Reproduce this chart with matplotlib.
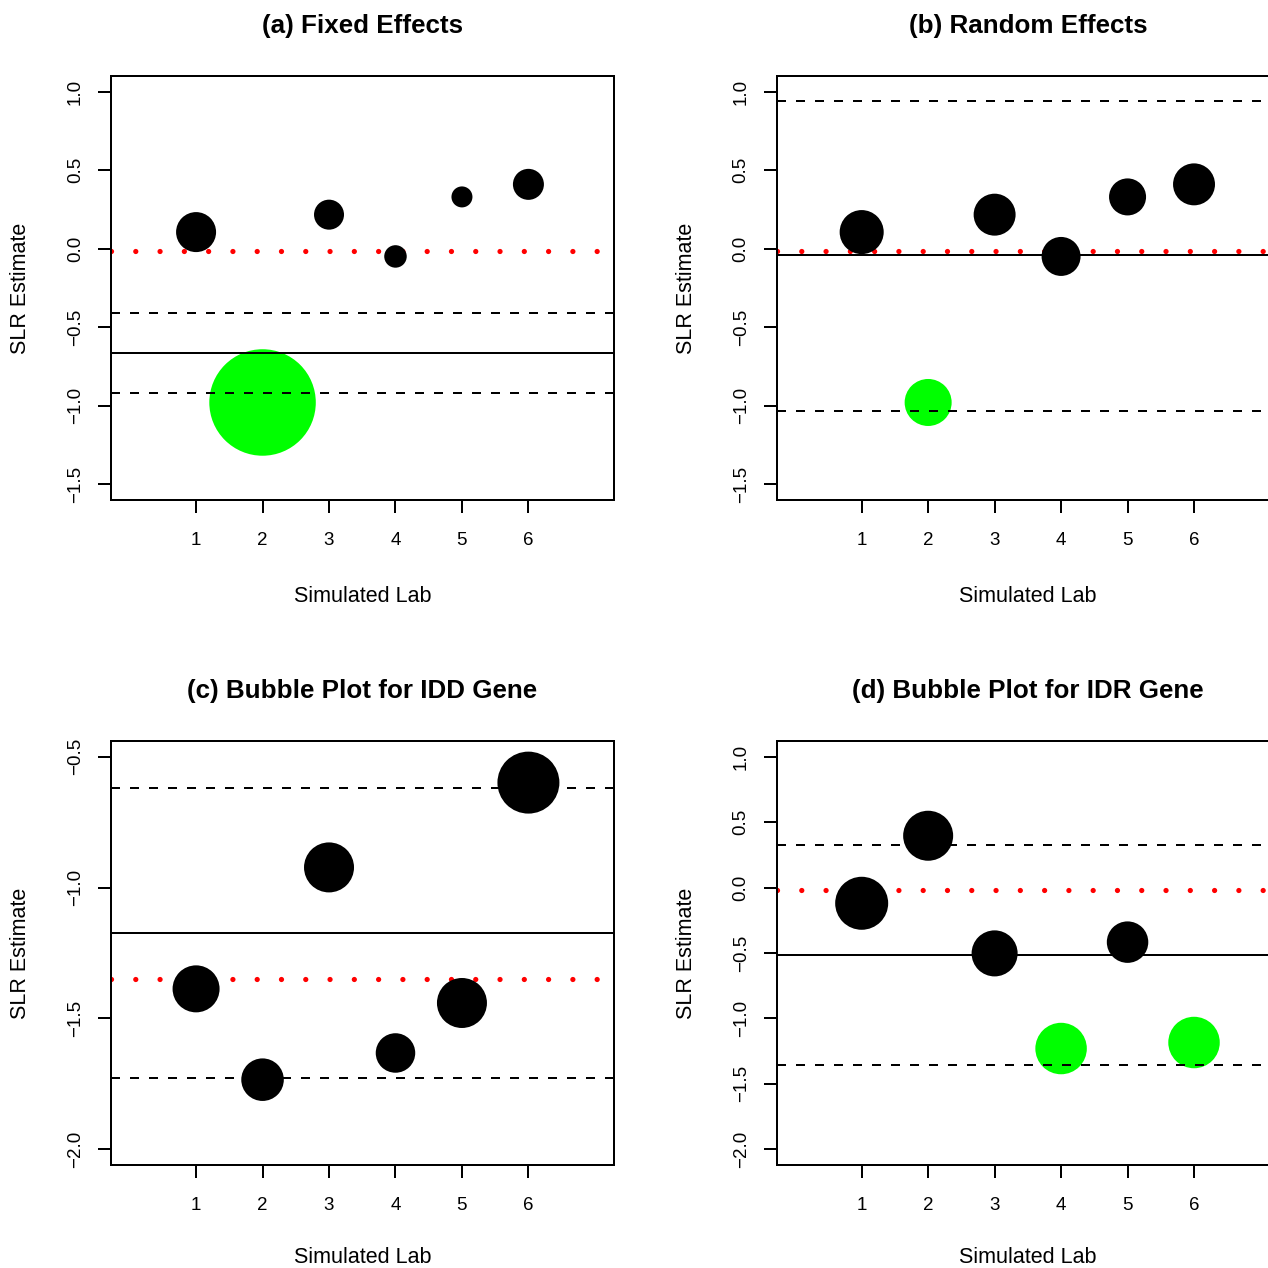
import numpy as np
import matplotlib
matplotlib.use("Agg")
import matplotlib.pyplot as plt

plt.rcParams['font.family'] = ['Liberation Sans', 'DejaVu Sans']

# lab numbers
labs = [1, 2, 3, 4, 5, 6]

# (a) / (b) same study estimates
est_ab = [0.106, -0.979, 0.217, -0.049, 0.330, 0.410]
wt_a = [16.0, 113.4, 9.0, 5.06, 4.41, 9.61]
wt_b = [19.4, 22.1, 17.6, 15.2, 13.7, 17.6]
out_ab = [False, True, False, False, False, False]

# (c) IDD gene
est_c = [-1.387, -1.734, -0.923, -1.632, -1.441, -0.599]
wt_c = [22.1, 18.1, 25.0, 15.6, 25.0, 38.4]
out_c = [False, False, False, False, False, False]

# (d) IDR gene
est_d = [-0.120, 0.396, -0.503, -1.230, -0.417, -1.184]
wt_d = [28.1, 25.0, 21.2, 26.5, 17.2, 26.5]
out_d = [False, False, False, True, False, True]

# pooled estimate, lower / upper dashed bounds, reference (true) value
pool_a = [-0.663, -0.917, -0.412, -0.013]
pool_b = [-0.043, -1.033, 0.941, -0.013]
pool_c = [-1.172, -1.728, -0.618, -1.350]
pool_d = [-0.514, -1.355, 0.329, -0.015]

titles = ["(a) Fixed Effects", "(b) Random Effects",
          "(c) Bubble Plot for IDD Gene", "(d) Bubble Plot for IDR Gene"]

yticks_ab = [-1.5, -1.0, -0.5, 0.0, 0.5, 1.0]
yticks_c = [-2.0, -1.5, -1.0, -0.5]
yticks_d = [-2.0, -1.5, -1.0, -0.5, 0.0, 0.5, 1.0]


def fmt(v):
    s = "%.1f" % v
    return s.replace("-", "\u2212")


def bubble(ax, title, est, wt, outl, pool, yticks, ylim, xlab_y=-0.2017):
    lw = 1.44
    ax.set_xlim(-0.28, 7.28)
    ax.set_ylim(*ylim)
    # reference value (red dotted)
    ax.axhline(pool[3], color='red', lw=3.8, linestyle=(0, (0.001, 4.6)),
               dash_capstyle='round', zorder=1)
    cols = ['#00FF00' if o else 'black' for o in outl]
    sizes = [51.84 * w for w in wt]
    ax.scatter(labs, est, s=sizes, c=cols, linewidths=0, zorder=2)
    ax.axhline(pool[0], color='black', lw=lw, zorder=3)
    ax.axhline(pool[1], color='black', lw=lw, linestyle=(0, (4.5, 5.0)), zorder=3)
    ax.axhline(pool[2], color='black', lw=lw, linestyle=(0, (4.5, 5.0)), zorder=3)

    ax.set_xticks(labs)
    ax.set_xticklabels([str(l) for l in labs])
    ax.set_yticks(yticks)
    ax.set_yticklabels([fmt(v) for v in yticks], rotation=90, va='center')
    ax.tick_params(axis='both', length=9.4, width=lw, labelsize=13.5,
                   direction='out')
    ax.tick_params(axis='x', pad=13.4)
    ax.tick_params(axis='y', pad=10)
    for sp in ax.spines.values():
        sp.set_linewidth(lw)
    ax.set_title(title, fontsize=18.7, fontweight='bold', pad=31)
    ax.set_xlabel("Simulated Lab", fontsize=15.5)
    ax.set_ylabel("SLR Estimate", fontsize=15.5)
    ax.xaxis.set_label_coords(0.5, xlab_y)
    ax.yaxis.set_label_coords(-0.1588, 0.5)


fig = plt.figure(figsize=(12.68, 12.68), dpi=100)
W = 502.5 / 1268
H = 424 / 1268
ax1 = fig.add_axes([111 / 1268, (1268 - 500) / 1268, W, H])
ax2 = fig.add_axes([776.6 / 1268, (1268 - 500) / 1268, W, H])
ax3 = fig.add_axes([111 / 1268, (1268 - 1165) / 1268, W, H])
ax4 = fig.add_axes([776.6 / 1268, (1268 - 1165) / 1268, W, H])

bubble(ax1, titles[0], est_ab, wt_a, out_ab, pool_a, yticks_ab, (-1.6, 1.1))
bubble(ax2, titles[1], est_ab, wt_b, out_ab, pool_b, yticks_ab, (-1.6, 1.1))
bubble(ax3, titles[2], est_c, wt_c, out_c, pool_c, yticks_c, (-2.06, -0.44),
       xlab_y=-0.193)
bubble(ax4, titles[3], est_d, wt_d, out_d, pool_d, yticks_d, (-2.12, 1.12),
       xlab_y=-0.193)

fig.savefig("out.png", dpi=100)
